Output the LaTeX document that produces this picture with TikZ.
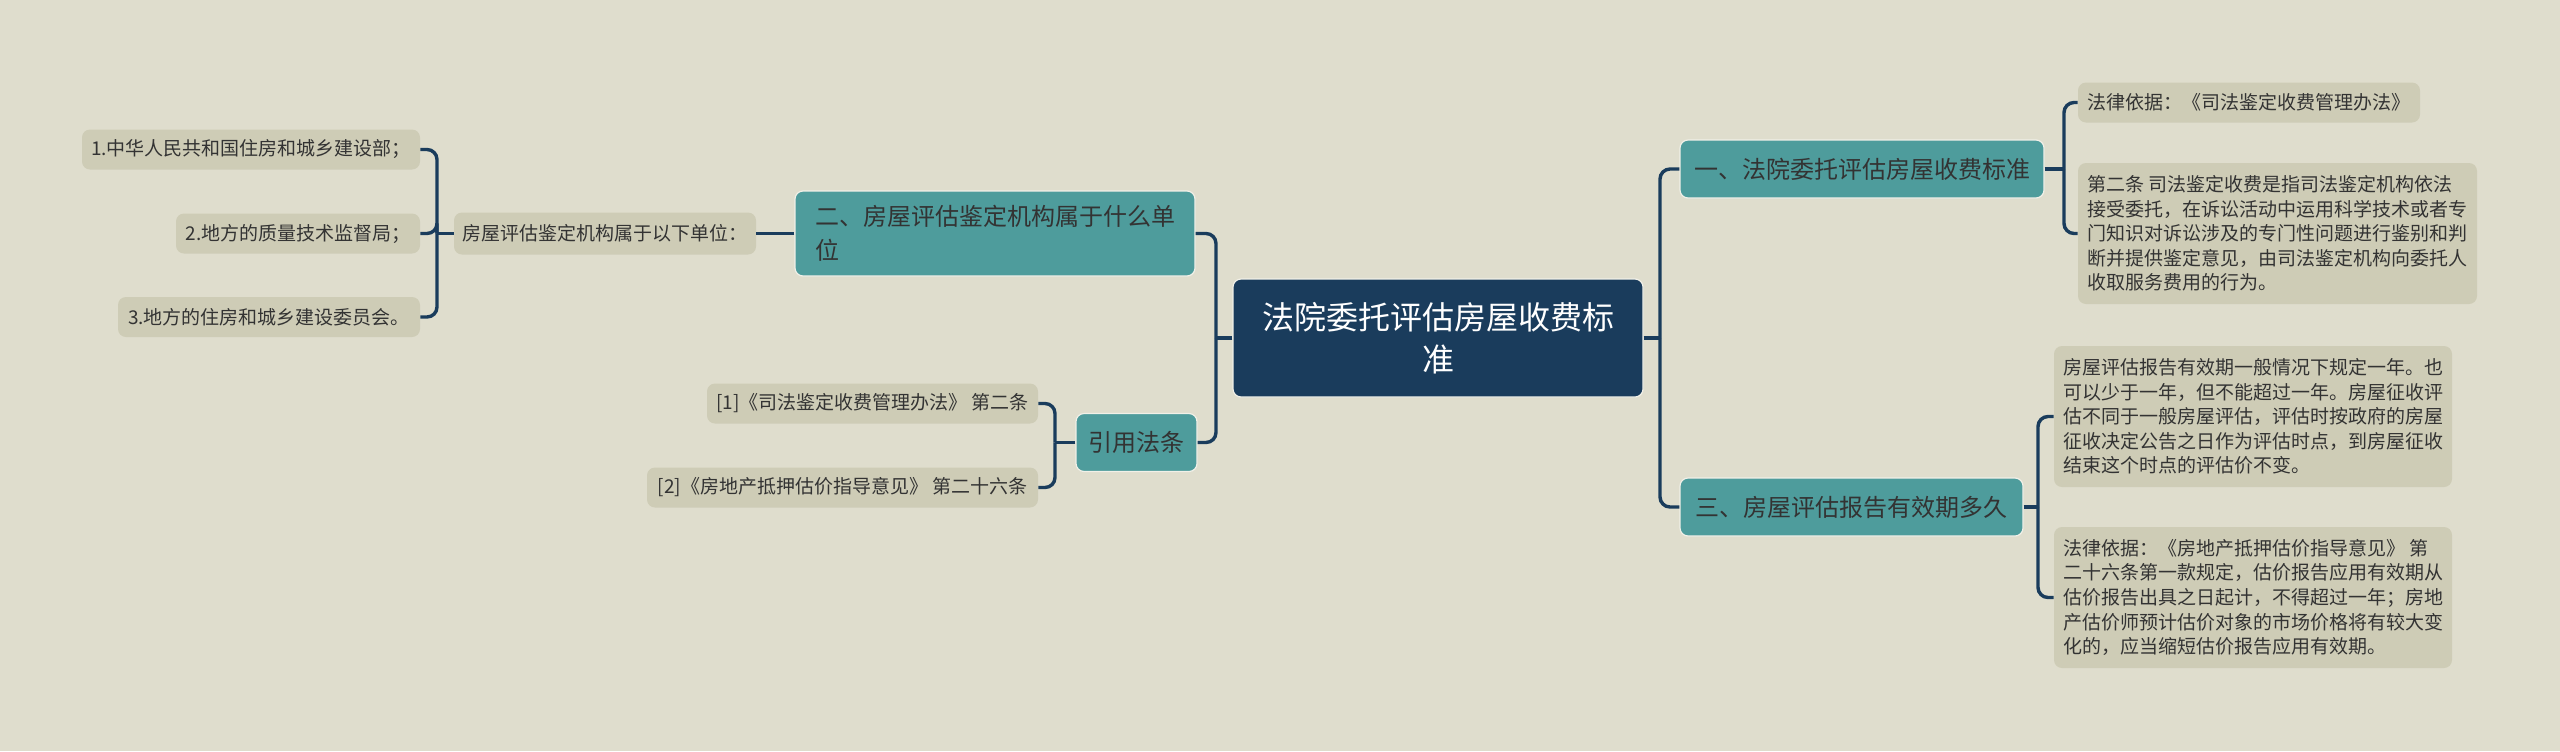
\documentclass[tikz,border=0pt]{standalone}
\usepackage{fontspec}
\setmainfont{Noto Sans CJK SC}
\definecolor{mapbg}{HTML}{DFDDCD}
\definecolor{mapleaf}{HTML}{CECCB6}
\definecolor{mapteal}{HTML}{4E9C9C}
\definecolor{mapnavy}{HTML}{1A3C5C}
\definecolor{maptext}{HTML}{333333}

\begin{document}
\begin{tikzpicture}[
        x=0.5pt,
        y=-0.5pt,
        treeedge/.style={draw=mapnavy, line width=1.7pt, rounded corners=5pt},
        root/.style={fill=mapnavy, draw=white!55!mapbg, line width=0.6pt, rounded corners=4pt, align=center, text=white, font=\fontsize{16}{21}\selectfont, minimum width=205pt, minimum height=59pt, inner sep=0pt},
        branch/.style={fill=mapteal, draw=white!55!mapbg, line width=0.6pt, rounded corners=4pt, align=left, text=black!80, font=\fontsize{12}{17}\selectfont, minimum height=29pt, inner sep=0pt},
        leaf/.style={fill=mapleaf, rounded corners=4pt, align=left, text=maptext, font=\fontsize{9.5}{12.3}\selectfont, minimum height=20pt, inner sep=0pt}
      ]
        \fill[mapbg] (0,0) rectangle (2560,751);
        \useasboundingbox (0,0) rectangle (2560,751);

        \node[root] (root) at (1438,338) {法院委托评估房屋收费标\\准};

        \node[branch, minimum width=200pt, minimum height=42.5pt] (org) at (995,233.5) {二、房屋评估鉴定机构属于什么单\\位};
        \node[branch, minimum width=60.5pt] (cite) at (1136.5,442.5) {引用法条};
        \node[branch, minimum width=182pt] (fee) at (1862,169) {一、法院委托评估房屋收费标准};
        \node[branch, minimum width=171.5pt] (valid) at (1851.5,507) {三、房屋评估报告有效期多久};

        \node[leaf, minimum width=151pt, minimum height=21pt] (unit) at (605,233.5) {房屋评估鉴定机构属于以下单位：};
        \node[leaf, minimum width=169pt] (u1) at (251,149.5) {1.中华人民共和国住房和城乡建设部；};
        \node[leaf, minimum width=122pt] (u2) at (298,233.5) {2.地方的质量技术监督局；};
        \node[leaf, minimum width=151pt] (u3) at (269,317) {3.地方的住房和城乡建设委员会。};

        \node[leaf, minimum width=165.5pt] (c1) at (872.5,403.5) {[1]《司法鉴定收费管理办法》 第二条};
        \node[leaf, minimum width=195.5pt] (c2) at (842.5,487.5) {[2]《房地产抵押估价指导意见》 第二十六条};

        \node[leaf, minimum width=171pt] (f1) at (2249,102.5) {法律依据：《司法鉴定收费管理办法》};
        \node[leaf, minimum width=199.5pt, minimum height=70.5pt] (f2) at (2277.5,233.5) {第二条 司法鉴定收费是指司法鉴定机构依法\\接受委托，在诉讼活动中运用科学技术或者专\\门知识对诉讼涉及的专门性问题进行鉴别和判\\断并提供鉴定意见，由司法鉴定机构向委托人\\收取服务费用的行为。};
        \node[leaf, minimum width=199pt, minimum height=70.5pt] (v1) at (2253,416.5) {房屋评估报告有效期一般情况下规定一年。也\\可以少于一年，但不能超过一年。房屋征收评\\估不同于一般房屋评估，评估时按政府的房屋\\征收决定公告之日作为评估时点，到房屋征收\\结束这个时点的评估价不变。};
        \node[leaf, minimum width=199pt, minimum height=70.5pt] (v2) at (2253,597.5) {法律依据：《房地产抵押估价指导意见》 第\\二十六条第一款规定，估价报告应用有效期从\\估价报告出具之日起计，不得超过一年；房地\\产估价师预计估价对象的市场价格将有较大变\\化的，应当缩短估价报告应用有效期。};

        \coordinate (rootL) at (1216,338);
        \coordinate (rootR) at (1660,338);
        \coordinate (orgL) at (776,233.5);
        \coordinate (unitL) at (437,233.5);
        \coordinate (citeL) at (1055,442.5);
        \coordinate (feeR) at (2064,169);
        \coordinate (validR) at (2038,507);

        \draw[treeedge] (root.west) -- (rootL);
        \foreach \n in {org,cite} {
          \draw[treeedge] (rootL) |- (\n.east);
        }
        \draw[treeedge] (root.east) -- (rootR);
        \foreach \n in {fee,valid} {
          \draw[treeedge] (rootR) |- (\n.west);
        }

        \draw[treeedge] (org.west) -- (orgL) -- (unit.east);
        \draw[treeedge] (unit.west) -- (unitL);
        \foreach \n in {u1,u2,u3} {
          \draw[treeedge] (unitL) |- (\n.east);
        }
        \draw[treeedge] (cite.west) -- (citeL);
        \foreach \n in {c1,c2} {
          \draw[treeedge] (citeL) |- (\n.east);
        }

        \draw[treeedge] (fee.east) -- (feeR);
        \foreach \n in {f1,f2} {
          \draw[treeedge] (feeR) |- (\n.west);
        }
        \draw[treeedge] (valid.east) -- (validR);
        \foreach \n in {v1,v2} {
          \draw[treeedge] (validR) |- (\n.west);
        }
      \end{tikzpicture}
\end{document}
